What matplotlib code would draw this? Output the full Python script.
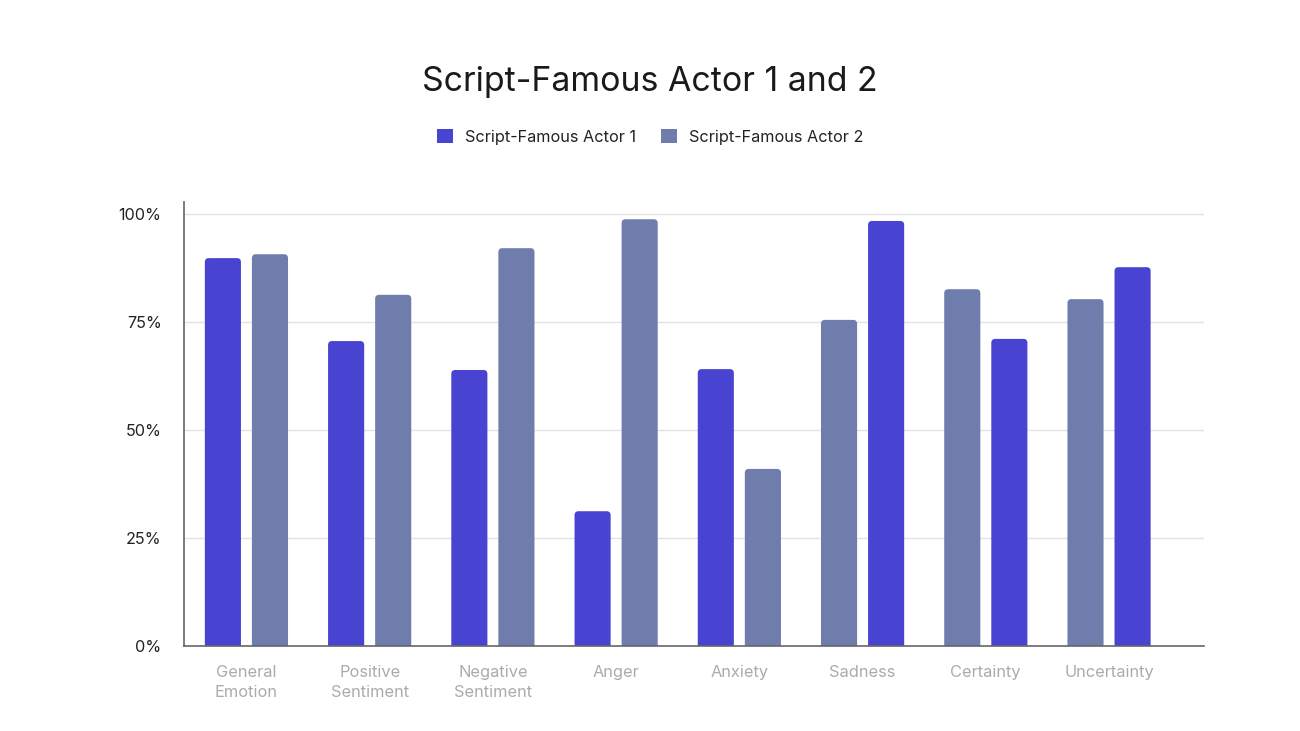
import numpy as np
import matplotlib
matplotlib.use("Agg")
import matplotlib.pyplot as plt
from matplotlib.patches import Patch, FancyBboxPatch

plt.rcParams['font.family'] = ['Inter', 'DejaVu Sans']

# ---------------------------
# Datos
# ---------------------------
categorias = ['General\nEmotion', 'Positive\nSentiment', 'Negative\nSentiment', 'Anger',
              'Anxiety', 'Sadness', 'Certainty', 'Uncertainty']
actor1 = [89.8, 70.6, 63.9, 31.2, 64.1, 98.4, 71.1, 87.7]
actor2 = [90.7, 81.3, 92.1, 98.8, 41.0, 75.5, 82.6, 80.3]
# en las tres ultimas categorias el actor 2 va a la izquierda
actor1_primero = [True, True, True, True, True, False, False, False]
series = ['Script-Famous Actor 1', 'Script-Famous Actor 2']
yticks = [0, 25, 50, 75, 100]

c_azul = '#4843D1'
c_gris = '#6F7DAC'

fig = plt.figure(figsize=(13, 7.31), dpi=100)
ax = fig.add_axes([0.1415, 0.1163, 0.7846, 0.6074])

x = np.arange(len(categorias))
ancho = 0.293
off = 0.191
barras = []
for i in range(len(categorias)):
    s = -1 if actor1_primero[i] else 1
    barras += list(ax.bar(x[i] + s * off, actor1[i], width=ancho, color=c_azul, zorder=3))
    barras += list(ax.bar(x[i] - s * off, actor2[i], width=ancho, color=c_gris, zorder=3))

# esquinas redondeadas: reemplazar cada barra por un FancyBboxPatch
for r in barras:
    bx, by = r.get_x(), r.get_y()
    bw, bh = r.get_width(), r.get_height()
    p = FancyBboxPatch((bx, by - 3), bw, bh + 3,
                       boxstyle='round,pad=0,rounding_size=0.032',
                       mutation_aspect=29, facecolor=r.get_facecolor(),
                       edgecolor='none', zorder=3, clip_on=True)
    r.remove()
    ax.add_patch(p)

ax.set_xlim(-0.507, 7.77)
ax.set_ylim(0, 102.8)
ax.set_yticks(yticks)
ax.set_yticklabels([f'{v}%' for v in yticks], fontsize=11.7, color='#222222')
ax.set_xticks(x)
ax.set_xticklabels(categorias, fontsize=11.8, color='#ABABAB', linespacing=1.4)
ax.tick_params(axis='both', length=0)
ax.tick_params(axis='y', pad=16)
ax.tick_params(axis='x', pad=13.5)
ax.grid(axis='y', color='#E3E3E3', linewidth=1, zorder=0)
for lado in ['top', 'right']:
    ax.spines[lado].set_visible(False)
ax.spines['left'].set_color('#666666')
ax.spines['bottom'].set_color('#666666')
ax.spines['left'].set_linewidth(1.2)
ax.spines['bottom'].set_linewidth(1.2)
ax.spines['bottom'].set_zorder(4)

fig.text(0.5, 0.888, 'Script-Famous Actor 1 and 2', ha='center', va='center',
         fontsize=24.4, color='#1A1A1A')

handles = [Patch(facecolor=c_azul, label=series[0]),
           Patch(facecolor=c_gris, label=series[1])]
fig.legend(handles=handles, loc='center', bbox_to_anchor=(0.5, 0.813), ncol=2,
           frameon=False, fontsize=11.7, handlelength=1.0, handleheight=1.0,
           handletextpad=0.75, columnspacing=1.5, labelcolor='#222222')

fig.savefig('out.png', dpi=100, facecolor='white')
